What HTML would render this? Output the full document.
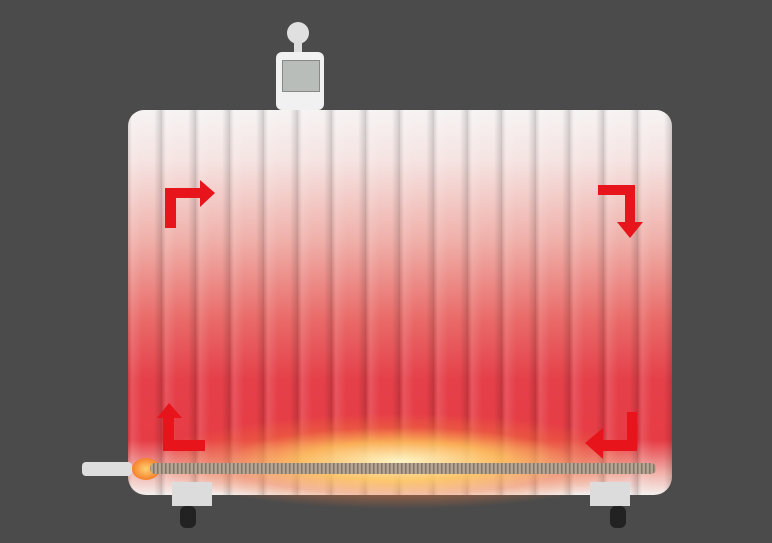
<!DOCTYPE html>
<html><head><style>
body{margin:0;width:772px;height:543px;background:#4b4b4b;overflow:hidden;position:relative;font-family:"Liberation Sans",sans-serif}
.rad{position:absolute;left:128px;top:110px;width:544px;height:385px;border-radius:16px 16px 18px 18px;
background:linear-gradient(#f6f3f3 0px,#f5e4e2 50px,#f0b0aa 130px,#e96a68 210px,#e5404a 270px,#e63c45 330px,#f2b8b0 365px,#f4f0ee 385px)}
.cols{position:absolute;left:128px;top:110px;width:544px;height:385px;border-radius:16px;
background:repeating-linear-gradient(90deg,rgba(0,0,0,.10) 0,rgba(255,255,255,.12) 4px,rgba(255,255,255,0) 14px,rgba(0,0,0,0) 26px,rgba(0,0,0,.14) 33px,rgba(0,0,0,.18) 34px)}
.cap{position:absolute;top:110px;width:34px;height:22px;border-radius:17px 17px 0 0;background:radial-gradient(ellipse at 50% 40%,#fff,#ddd)}
.fire{position:absolute;left:150px;top:395px;width:500px;height:120px;
background:radial-gradient(ellipse 50% 40% at 50% 55%,rgba(255,250,200,.95),rgba(255,200,90,.8) 40%,rgba(240,120,60,.4) 70%,rgba(0,0,0,0))}
.rod{position:absolute;left:150px;top:463px;width:506px;height:11px;border-radius:5px;
background:repeating-linear-gradient(90deg,#8a7a68 0,#c8b8a4 2px,#6e6054 4px),#9c8c78}
.ctrl{position:absolute;left:276px;top:52px;width:48px;height:58px;background:#f1f1f1;border-radius:6px}
.scr{position:absolute;left:282px;top:60px;width:36px;height:30px;background:#b9bdb9;border:1px solid #888}
.plug{position:absolute;left:287px;top:22px;width:22px;height:22px;border-radius:50%;background:#e0e0e0}
.wheel{position:absolute;width:16px;height:22px;background:#222;border-radius:6px}
.foot{position:absolute;width:40px;height:24px;background:#dcdcdc}
</style></head><body>
<div class="plug"></div>
<div style="position:absolute;left:294px;top:40px;width:8px;height:14px;background:#ddd"></div>
<div class="ctrl"></div><div class="scr"></div>
<div class="rad"></div>
<div class="cols"></div>
<div class="fire"></div>
<div class="foot" style="left:172px;top:482px"></div>
<div class="foot" style="left:590px;top:482px"></div>
<div class="wheel" style="left:180px;top:506px"></div>
<div class="wheel" style="left:610px;top:506px"></div>
<div style="position:absolute;left:82px;top:462px;width:50px;height:14px;background:#ddd;border-radius:4px"></div>
<div style="position:absolute;left:132px;top:458px;width:28px;height:22px;border-radius:50%;background:radial-gradient(#ffd070,#f06010)"></div>
<div class="rod"></div>
<svg width="772" height="543" style="position:absolute;left:0;top:0">
<g fill="#e8141c">
<polygon points="165,228 176,228 176,198 200,198 200,207 215,193 200,180 200,188 165,188"/>
<polygon points="598,185 635,185 635,222 643,222 630,238 617,222 625,222 625,195 598,195"/>
<polygon points="157,418 169,403 182,418 174,418 174,440 205,440 205,451 163,451 163,418"/>
<polygon points="627,412 637,412 637,451 603,451 603,459 585,443 603,428 603,440 627,440"/>
</g></svg>
</body></html>
